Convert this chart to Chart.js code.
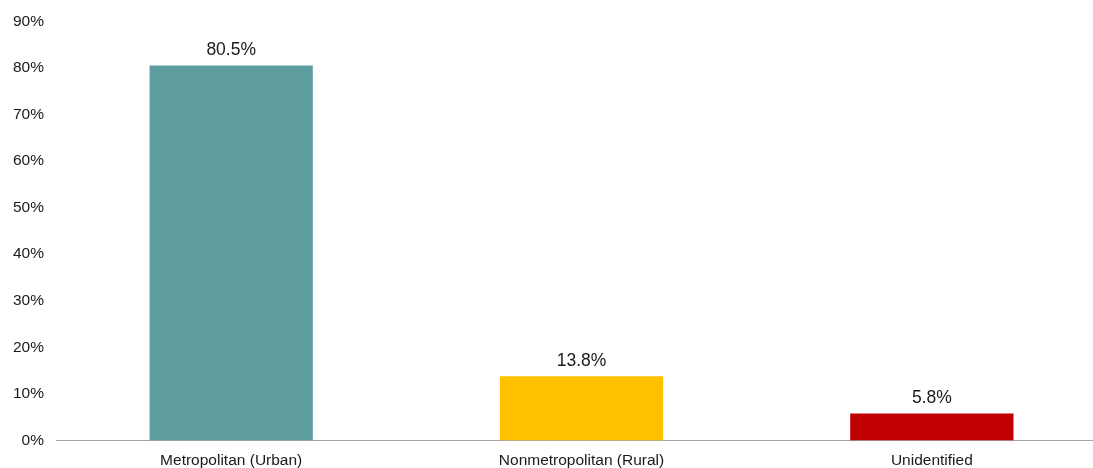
<!DOCTYPE html>
<html>
<head>
<meta charset="utf-8">
<script src="https://cdn.jsdelivr.net/npm/chart.js@4/dist/chart.umd.min.js"></script>
<style>
  html, body { margin: 0; padding: 0; overflow: hidden; background: #fff; }
  #wrap { width: 1110px; height: 481px; position: relative; }
</style>
</head>
<body>
<div id="wrap"><canvas id="chart"></canvas></div>
<script>
const categories = ['Metropolitan (Urban)', 'Nonmetropolitan (Rural)', 'Unidentified'];
const shares = [80.5, 13.8, 5.8];
const barColors = ['#5F9EA0', '#FFC000', '#C00000'];
const yTicks = [0, 10, 20, 30, 40, 50, 60, 70, 80, 90];

const FONT = '"Liberation Sans", Arial, sans-serif';

// draws the value above each bar
const valueLabels = {
    id: 'valueLabels',
    afterDatasetsDraw(chart) {
        const ctx = chart.ctx;
        const meta = chart.getDatasetMeta(0);
        ctx.save();
        ctx.font = '17.5px ' + FONT;
        ctx.fillStyle = '#1a1a1a';
        ctx.textAlign = 'center';
        ctx.textBaseline = 'middle';
        meta.data.forEach((bar, i) => {
            ctx.fillText(shares[i].toFixed(1) + '%', bar.x, bar.y - 15);
        });
        ctx.restore();
    }
};

new Chart(document.getElementById('chart'), {
    type: 'bar',
    data: {
        labels: categories,
        datasets: [{
            data: shares,
            backgroundColor: barColors,
            borderWidth: 0,
            barPercentage: 0.466,
            categoryPercentage: 1
        }]
    },
    options: {
        responsive: true,
        maintainAspectRatio: false,
        animation: false,
        layout: { padding: { top: 12, left: 1, right: 3, bottom: 0 } },
        plugins: {
            legend: { display: false },
            tooltip: { enabled: false }
        },
        scales: {
            x: {
                grid: { display: false, drawTicks: false },
                border: { display: true, color: '#a6a6a6', width: 1 },
                ticks: { color: '#1a1a1a', font: { family: FONT, size: 15.5 }, padding: 11, maxRotation: 0 }
            },
            y: {
                min: 0,
                max: 90,
                afterBuildTicks: axis => { axis.ticks = yTicks.map(v => ({ value: v })); },
                grid: { display: false, drawTicks: false },
                border: { display: false },
                ticks: {
                    color: '#1a1a1a',
                    font: { family: FONT, size: 15.5 },
                    padding: 12,
                    callback: v => v + '%'
                }
            }
        }
    },
    plugins: [valueLabels]
});
</script>
</body>
</html>
